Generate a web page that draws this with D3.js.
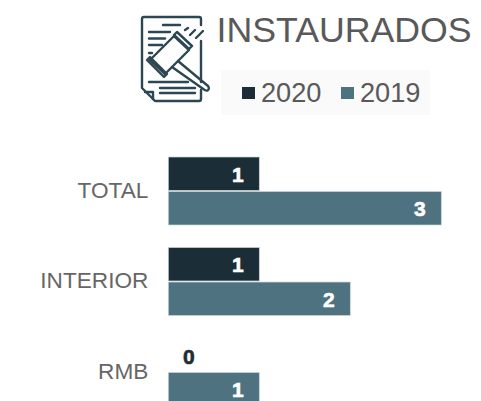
<!DOCTYPE html>
<html><head><meta charset="utf-8">
<script src="https://cdnjs.cloudflare.com/ajax/libs/d3/7.8.5/d3.min.js"></script>
<style>html,body{margin:0;padding:0;background:#fff}svg{display:block}text{font-family:"Liberation Sans",Arial,sans-serif}</style>
</head><body><svg id="c" width="481" height="401"></svg>
<script>
const categories=["TOTAL","INTERIOR","RMB"];
const seriesNames=["2020","2019"];
const values2020=[1,1,0];
const values2019=[3,2,1];
const colors=["#1b2d36","#4f7280"];
const title="INSTAURADOS";

const svg=d3.select("#c");
const x=d3.scaleLinear().domain([0,3]).range([168.3,441.3]);
const y=d3.scaleBand().domain(categories).range([157,157+90.5*3-22.5]).paddingInner(22.5/90.5).paddingOuter(0);
const inner=d3.scaleBand().domain(seriesNames).range([0,y.bandwidth()]).paddingInner(0.03);

// title + legend
svg.append("text").attr("x",216.5).attr("y",41.5).attr("font-size",35.7).attr("fill","#595959").text(title);
svg.append("rect").attr("x",221).attr("y",70).attr("width",209).attr("height",45).attr("fill","#fafafa");
const legendX=[242,341];
seriesNames.forEach((s,i)=>{
  svg.append("rect").attr("x",legendX[i]).attr("y",87).attr("width",13).attr("height",12).attr("fill",colors[i]);
  svg.append("text").attr("x",legendX[i]+19).attr("y",102).attr("font-size",27.2).attr("fill","#595959").text(s);
});

// icon
const ic=svg.append("g").attr("fill","none").attr("stroke","#2c4753").attr("stroke-width",2.4).attr("stroke-linecap","round").attr("stroke-linejoin","round");
[
 "M201 25V19Q201 17 199 17H144Q142 17 142 19V88L155 101H199Q201 101 201 99V90",
 "M145 92H153V99",
 "M201 41V82",
 "M163 25H180","M149 32H170","M149 38.500H165","M149 45H162","M149 53H152",
 "M149 82H188","M160 88H195","M160 93H195",
 "M177 32L192 46L189 49L174 35Z",
 "M174 36L189 50L165 74L150 60Z",
 "M150 57L167 74L164 77L147 60Z",
 "M178 61L208 86Q210 89 207.500 90.500Q205.500 91 204 89.500L172 67",
 "M185 30L188 28","M190 35L195 30","M196 38L203 31"
].forEach(d=>ic.append("path").attr("d",d));

// bars
const rows=[];
categories.forEach((c,i)=>{rows.push({c,s:"2020",v:values2020[i],k:0});rows.push({c,s:"2019",v:values2019[i],k:1});});
const g=svg.append("g");
g.selectAll("rect").data(rows.filter(d=>d.v>0)).join("rect")
 .attr("x",x(0)).attr("y",d=>y(d.c)+inner(d.s))
 .attr("width",d=>x(d.v)-x(0)).attr("height",inner.bandwidth())
 .attr("fill",d=>colors[d.k]).attr("stroke","#c9d6da").attr("stroke-width",0.7);
g.selectAll("text.v").data(rows).join("text").attr("class","v")
 .attr("x",d=>d.v>0?x(d.v)-21.500:x(0)+20.5)
 .attr("y",d=>y(d.c)+inner(d.s)+inner.bandwidth()/2+(d.v>0?8.200:9))
 .attr("text-anchor","middle").attr("font-size",21).attr("font-weight",700)
 .attr("fill",d=>d.v>0?"#fff":colors[0]).attr("stroke",d=>d.v>0?"#fff":colors[0]).attr("stroke-width",0.6)
 .text(d=>d.v);

// category axis
const axis=d3.axisLeft(y).tickSize(0).tickPadding(20);
const ag=svg.append("g").attr("transform",`translate(${x(0)},0)`).call(axis);
ag.select(".domain").remove();
ag.selectAll("text").attr("font-size",22.6).attr("font-family",'"Liberation Sans",Arial,sans-serif').attr("fill","#666").attr("dy","0.3em");
</script></body></html>
